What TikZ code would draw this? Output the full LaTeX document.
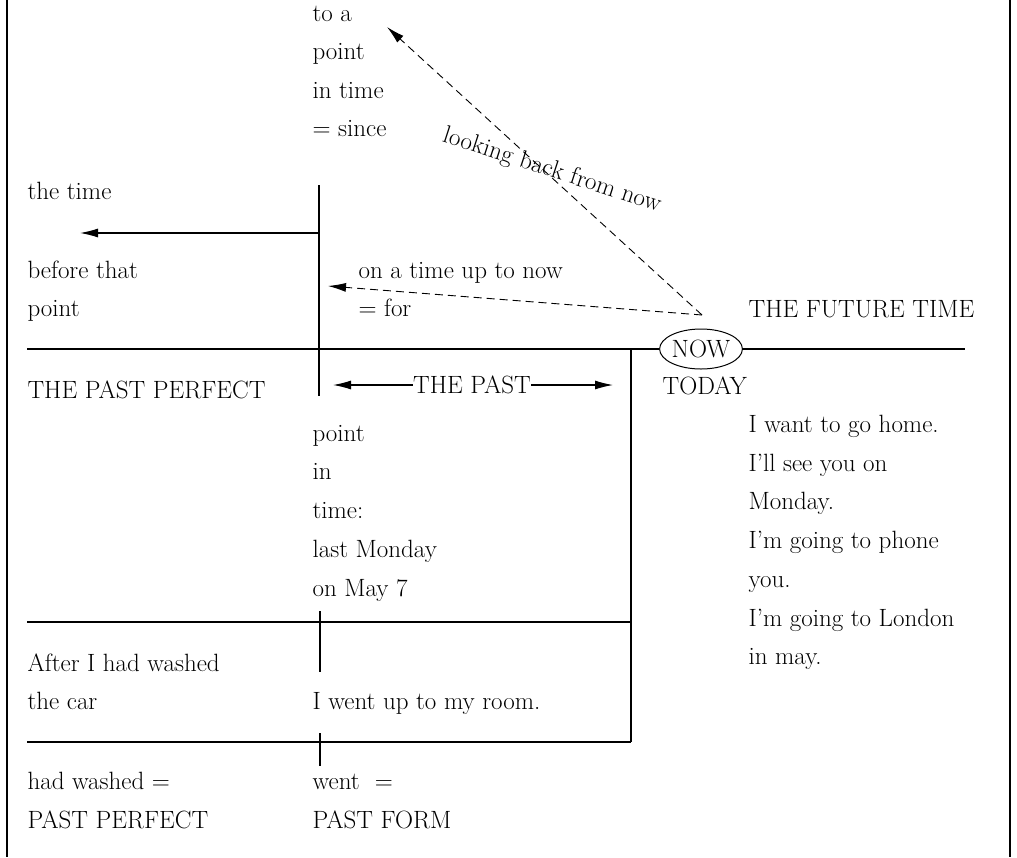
\documentclass[tikz,border=0pt]{standalone}
\usetikzlibrary{arrows.meta,shapes.geometric}
\begin{document}
\begin{tikzpicture}[x=1pt,y=-1pt,line width=1.1pt,
  txt/.style={anchor=base west,inner sep=0pt,font=\fontsize{25}{30}\selectfont},
  lbl/.style={inner sep=0pt,font=\fontsize{25}{30}\selectfont},
  tip/.style={-{Latex[length=18pt,width=9pt]}},
  dsh/.style={dash pattern=on 8pt off 5pt,line width=0.9pt}]
\useasboundingbox (0,0) rectangle (1017,857);
% frame sides
\coordinate (bl1) at (7,0); \coordinate (bl2) at (7,857);
\coordinate (br1) at (1010,0); \coordinate (br2) at (1010,857);
\draw (bl1) -- (bl2);
\draw (br1) -- (br2);
% main time line
\node[draw,ellipse,minimum width=74pt,minimum height=40pt,inner sep=0pt,line width=1pt,
  font=\fontsize{25}{30}\selectfont] (now) at (701,349) {NOW};
\coordinate (mainL) at (27,349); \coordinate (mainR) at (965,349);
\draw (mainL) -- (now.west);
\draw (now.east) -- (mainR);
% verticals and horizontals
\coordinate (v1a) at (319,185); \coordinate (v1b) at (319,396);
\draw (v1a) -- (v1b);
\coordinate (v2a) at (631,349); \coordinate (v2b) at (631,742);
\draw (v2a) -- (v2b);
\coordinate (h2a) at (27,622); \coordinate (h2b) at (631,622);
\draw (h2a) -- (h2b);
\coordinate (h3a) at (27,742);
\draw (h3a) -- (v2b);
\coordinate (s1a) at (320,611); \coordinate (s1b) at (320,672);
\draw (s1a) -- (s1b);
\coordinate (s2a) at (320,733); \coordinate (s2b) at (320,766);
\draw (s2a) -- (s2b);
% arrow "the time ... before that point"
\coordinate (ta1) at (319,233); \coordinate (ta2) at (80,233);
\draw[tip] (ta1) -- (ta2);
% THE PAST
\node[lbl] (thepast) at (472,385) {THE PAST};
\coordinate (pastL) at (333,385); \coordinate (pastR) at (613,385);
\draw[tip] (thepast.west) -- (pastL);
\draw[tip] (thepast.east) -- (pastR);
% dashed arrows
\coordinate (apex) at (702,315);
\coordinate (upTip) at (387,27);
\coordinate (leftTip) at (328,286);
\draw[dsh,tip] (apex) -- (upTip);
\draw[dsh,tip] (apex) -- (leftTip);
\node[lbl,rotate=-18] (look) at (552,171) {looking back from now};
% column 2 top
\node[txt] (c1) at (312,21) {to a};
\node[txt] (c2) at (312,59.5) {point};
\node[txt] (c3) at (312,98) {in time};
\node[txt] (c4) at (312,136.5) {= since};
% left column
\node[txt] (l1) at (27,199) {the time};
\node[txt] (l2) at (27,278) {before that};
\node[txt] (l3) at (27,316) {point};
\node[txt] (l4) at (27,398) {THE PAST PERFECT};
\node[txt] (l5) at (27,671) {After I had washed};
\node[txt] (l6) at (27,709) {the car};
\node[txt] (l7) at (27,789) {had washed =};
\node[txt] (l8) at (27,828) {PAST PERFECT};
% for
\node[txt] (f1) at (358,278) {on a time up to now};
\node[txt] (f2) at (358,316) {= for};
% column 2 middle
\node[txt] (m1) at (312,441) {point};
\node[txt] (m2) at (312,479.5) {in};
\node[txt] (m3) at (312,518.5) {time:};
\node[txt] (m4) at (312,557.5) {last Monday};
\node[txt] (m5) at (312,596) {on May 7};
\node[txt] (m6) at (312,709) {I went up to my room.};
\node[txt] (m7) at (312,789) {went\ \ =};
\node[txt] (m8) at (312,828) {PAST FORM};
% right side
\node[txt] (r0) at (748,317) {THE FUTURE TIME};
\node[txt] (td) at (662,394) {TODAY};
\node[txt] (r1) at (748,432) {I want to go home.};
\node[txt] (r2) at (748,471) {I'll see you on};
\node[txt] (r3) at (748,509.5) {Monday.};
\node[txt] (r4) at (748,548.5) {I'm going to phone};
\node[txt] (r5) at (748,587) {you.};
\node[txt] (r6) at (748,626) {I'm going to London};
\node[txt] (r7) at (748,664) {in may.};
\end{tikzpicture}
\end{document}
